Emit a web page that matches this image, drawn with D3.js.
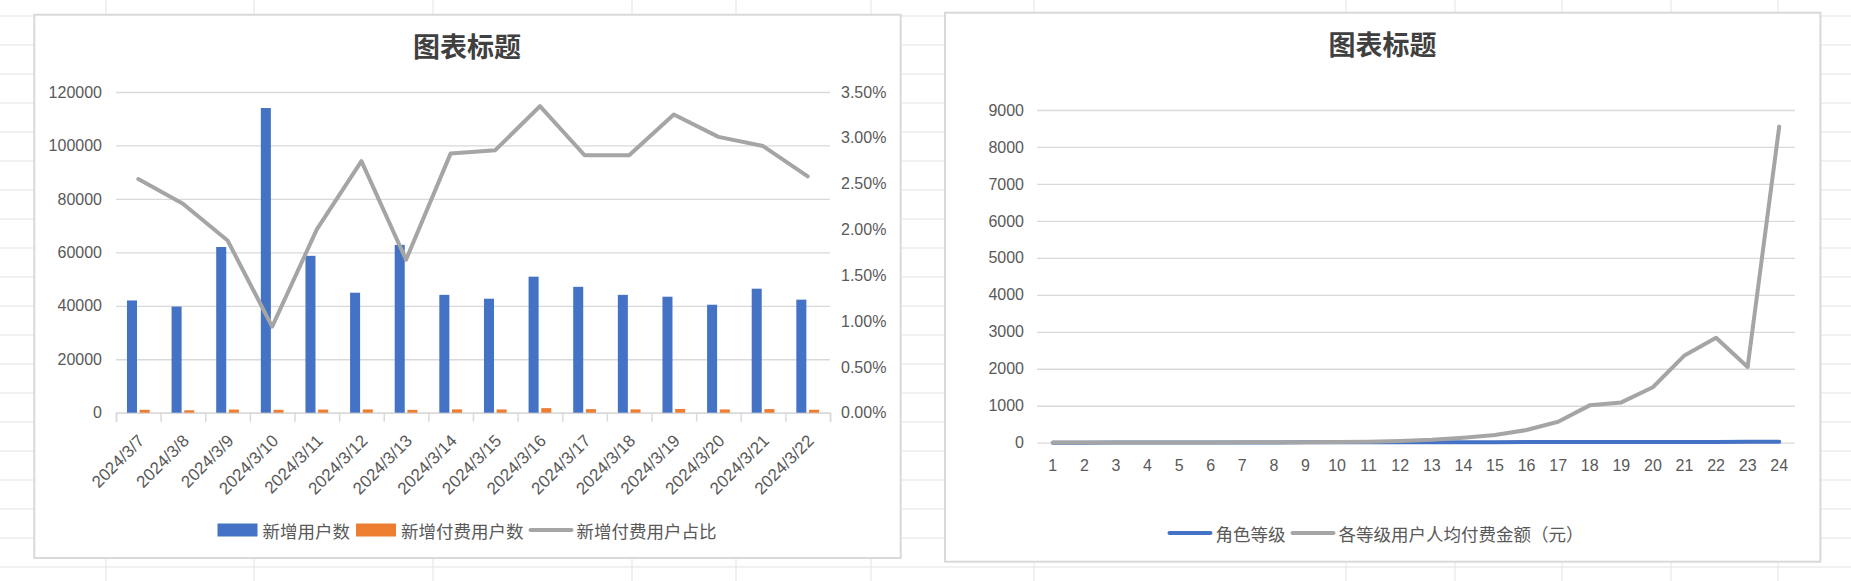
<!DOCTYPE html>
<html lang="zh">
<head>
<meta charset="UTF-8">
<title>图表标题</title>
<script src="https://d3js.org/d3.v7.min.js"></script>
<style>
    body { margin: 0; background: #fff; }
    svg { display: block; }
    .tick text { font-family: "Liberation Sans", Arial, sans-serif; font-size: 16px; fill: #595959; }
    .dates .tick text { font-size: 17px; }
</style>
</head>
<body>
<svg id="chart" width="1851" height="581"></svg>
<script>
// left chart data
const dates = ["2024/3/7", "2024/3/8", "2024/3/9", "2024/3/10", "2024/3/11", "2024/3/12", "2024/3/13", "2024/3/14",
               "2024/3/15", "2024/3/16", "2024/3/17", "2024/3/18", "2024/3/19", "2024/3/20", "2024/3/21", "2024/3/22"];
const newUsers = [42000, 39700, 62000, 114000, 58700, 44900, 62800, 44100, 42650, 50900, 47100, 44100, 43400, 40400, 46400, 42300];
const newPayUsers = [1070, 900, 1170, 1070, 1170, 1230, 1050, 1250, 1220, 1700, 1320, 1240, 1410, 1220, 1350, 1090];
const payRatio = [0.0255, 0.0228, 0.0188, 0.0094, 0.0200, 0.02745, 0.0167, 0.0283, 0.02865, 0.03345, 0.0281, 0.0281, 0.03255, 0.0301, 0.0291, 0.0258];
const leftYTicks = [0, 20000, 40000, 60000, 80000, 100000, 120000];
const rightYTicks = [0, 0.005, 0.01, 0.015, 0.02, 0.025, 0.03, 0.035];
const leftLegend = ["新增用户数", "新增付费用户数", "新增付费用户占比"];

// right chart data
const levels = [1, 2, 3, 4, 5, 6, 7, 8, 9, 10, 11, 12, 13, 14, 15, 16, 17, 18, 19, 20, 21, 22, 23, 24];
const levelValue = [1, 2, 3, 4, 5, 6, 7, 8, 9, 10, 11, 12, 13, 14, 15, 16, 17, 18, 19, 20, 21, 22, 23, 24];
const avgPay = [3, 4, 5, 6, 7, 8, 10, 12, 15, 18, 25, 46, 81, 135, 208, 343, 568, 1010, 1090, 1500, 2360, 2840, 2050, 8550];
const levelTicks = [0, 1000, 2000, 3000, 4000, 5000, 6000, 7000, 8000, 9000];
const rightLegend = ["角色等级", "各等级用户人均付费金额（元）"];

const BLUE = "#4472C4", ORANGE = "#ED7D31", GRAY = "#A5A5A5";
const GRID = "#d9d9d9", TEXT = "#595959";
const CJK = "'Noto Sans CJK SC', 'Noto Sans', sans-serif";

const svg = d3.select("#chart");

// spreadsheet background
const sheetCols = [106, 254, 433, 632, 736, 871, 1034, 1346, 1455, 1562, 1671, 1778];
const sheetRows = d3.range(16, 581, 29);
svg.append("g").selectAll("line.c").data(sheetCols).join("line")
    .attr("x1", d => d).attr("x2", d => d).attr("y1", 0).attr("y2", 581)
    .attr("stroke", "#e3e3e3").attr("stroke-width", 1);
svg.append("g").selectAll("line.r").data(sheetRows).join("line")
    .attr("x1", 0).attr("x2", 1851).attr("y1", d => d).attr("y2", d => d)
    .attr("stroke", "#e3e3e3").attr("stroke-width", 1);

function chartBox(x0, y0, x1, y1) {
    svg.append("rect").attr("x", x0).attr("y", y0).attr("width", x1 - x0).attr("height", y1 - y0)
        .attr("fill", "#fff").attr("stroke", "#d9d9d9").attr("stroke-width", 2);
}

function title(cx, cy) {
    svg.append("text").attr("x", cx).attr("y", cy).attr("text-anchor", "middle")
        .attr("dominant-baseline", "central")
        .style("font-family", CJK).style("font-size", "27px").style("font-weight", "bold")
        .attr("fill", "#404040").text("图表标题");
}

// legend: items = [{label, color, kind}]
function legend(cx, cy, items) {
    const g = svg.append("g");
    let x = 0;
    items.forEach(it => {
        if (it.kind === "rect") {
            g.append("rect").attr("x", x).attr("y", cy - 6.5).attr("width", 40).attr("height", 13).attr("fill", it.color);
        } else {
            g.append("line").attr("x1", x + 1).attr("x2", x + 42).attr("y1", cy).attr("y2", cy)
                .attr("stroke", it.color).attr("stroke-width", 4).attr("stroke-linecap", "round");
        }
        x += it.kind === "rect" ? 45 : 47;
        const t = g.append("text").attr("x", x).attr("y", cy).attr("dominant-baseline", "central")
            .style("font-family", CJK).style("font-size", "17.5px").attr("fill", TEXT).text(it.label);
        x += t.node().getComputedTextLength() + 6;
    });
    g.attr("transform", `translate(${cx - (x - 6) / 2},0)`);
}

// ---------- left chart ----------
chartBox(34.3, 14.7, 900.7, 558);
title(467, 45);

const L = { left: 116, right: 830, top: 92, bottom: 412.7 };
const y0 = d3.scaleLinear().domain([0, 120000]).range([L.bottom, L.top]);
const yPct = d3.scaleLinear().domain([0, 0.035]).range([L.bottom, L.top]);
const x0 = d3.scaleBand().domain(dates).range([L.left, L.right]).paddingInner(0.491).paddingOuter(0.2455);
const x1 = d3.scaleBand().domain(["new", "pay"]).range([0, x0.bandwidth()]).paddingInner(0.21);

const gy = svg.append("g").attr("transform", `translate(${L.left},0)`)
    .call(d3.axisLeft(y0).tickValues(leftYTicks).tickSize(-(L.right - L.left)).tickPadding(14).tickFormat(d3.format("d")));
gy.select(".domain").remove();
gy.selectAll(".tick line").attr("stroke", GRID).attr("stroke-width", 1.3);

const gyr = svg.append("g").attr("transform", `translate(${L.right},0)`)
    .call(d3.axisRight(yPct).tickValues(rightYTicks).tickSize(0).tickPadding(11).tickFormat(d3.format(".2%")));
gyr.select(".domain").remove();

// category tick marks on boundaries
const xEdge = d3.scaleLinear().domain([0, dates.length]).range([L.left, L.right]);
const gxe = svg.append("g").attr("transform", `translate(0,${L.bottom})`)
    .call(d3.axisBottom(xEdge).tickValues(d3.range(0, dates.length + 1)).tickSize(9).tickFormat(""));
gxe.selectAll("line, path").attr("stroke", GRID).attr("stroke-width", 1.5);

const gx = svg.append("g").attr("class", "dates").attr("transform", `translate(0,${L.bottom})`)
    .call(d3.axisBottom(x0).tickSize(0));
gx.select(".domain").remove();
gx.selectAll("text").attr("x", 0).attr("y", 0).attr("dy", "0.35em")
    .attr("transform", "translate(3,25) rotate(-45)").style("text-anchor", "end");

const bars = svg.append("g");
bars.selectAll("rect.n").data(dates).join("rect")
    .attr("x", (d, i) => x0(d) + x1("new")).attr("width", x1.bandwidth())
    .attr("y", (d, i) => y0(newUsers[i])).attr("height", (d, i) => L.bottom - y0(newUsers[i]))
    .attr("fill", BLUE);
bars.selectAll("rect.p").data(dates).join("rect")
    .attr("x", (d, i) => x0(d) + x1("pay")).attr("width", x1.bandwidth())
    .attr("y", (d, i) => y0(newPayUsers[i])).attr("height", (d, i) => L.bottom - y0(newPayUsers[i]))
    .attr("fill", ORANGE);

svg.append("path").datum(payRatio)
    .attr("fill", "none").attr("stroke", GRAY).attr("stroke-width", 4)
    .attr("stroke-linejoin", "round").attr("stroke-linecap", "round")
    .attr("d", d3.line().x((d, i) => x0(dates[i]) + x0.bandwidth() / 2).y(d => yPct(d)));

legend(467, 530, [
    { label: leftLegend[0], color: BLUE, kind: "rect" },
    { label: leftLegend[1], color: ORANGE, kind: "rect" },
    { label: leftLegend[2], color: GRAY, kind: "line" }
]);

// ---------- right chart ----------
chartBox(945, 12.7, 1820.4, 561.7);
title(1382.5, 43.3);

const R = { left: 1037, right: 1795, top: 110, bottom: 442.7 };
const ry = d3.scaleLinear().domain([0, 9000]).range([R.bottom, R.top]);
const rx = d3.scaleBand().domain(levels).range([R.left, R.right]);

const rgy = svg.append("g").attr("transform", `translate(${R.left},0)`)
    .call(d3.axisLeft(ry).tickValues(levelTicks).tickSize(-(R.right - R.left)).tickPadding(13).tickFormat(d3.format("d")));
rgy.select(".domain").remove();
rgy.selectAll(".tick line").attr("stroke", GRID).attr("stroke-width", 1.3);

const rgx = svg.append("g").attr("transform", `translate(0,${R.bottom})`)
    .call(d3.axisBottom(rx).tickSize(0));
rgx.select(".domain").remove();
rgx.selectAll("text").attr("y", 23).attr("dy", "0.35em");

const lineR = d3.line().x((d, i) => rx(levels[i]) + rx.bandwidth() / 2).y(d => ry(d));
svg.append("path").datum(levelValue)
    .attr("fill", "none").attr("stroke", BLUE).attr("stroke-width", 4)
    .attr("stroke-linejoin", "round").attr("stroke-linecap", "round").attr("d", lineR);
svg.append("path").datum(avgPay)
    .attr("fill", "none").attr("stroke", GRAY).attr("stroke-width", 4)
    .attr("stroke-linejoin", "round").attr("stroke-linecap", "round").attr("d", lineR);

legend(1376, 533, [
    { label: rightLegend[0], color: BLUE, kind: "line" },
    { label: rightLegend[1], color: GRAY, kind: "line" }
]);
</script>
</body>
</html>
